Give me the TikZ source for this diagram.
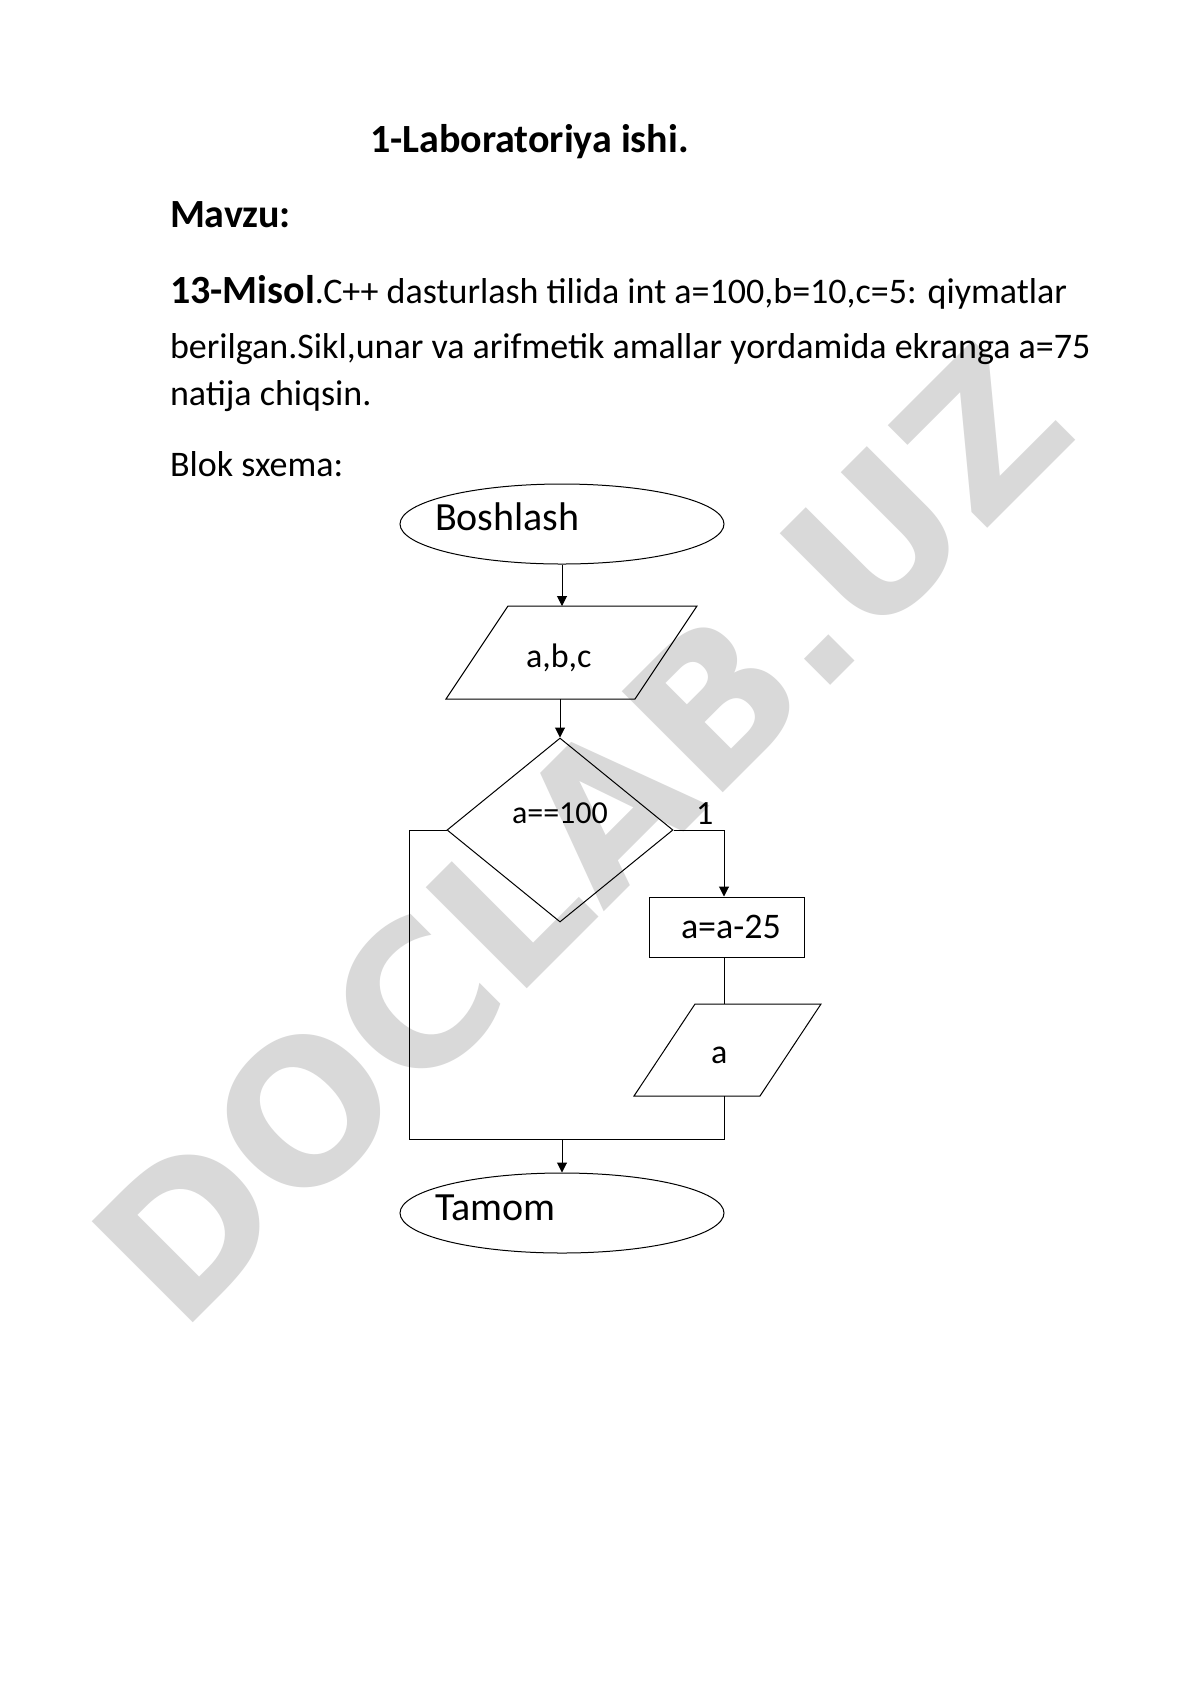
\documentclass[tikz,border=0pt]{standalone}
\usepackage{fontspec}
\setmainfont{Carlito}
\newfontfamily\wmfont{DejaVu Sans}
\usetikzlibrary{shapes.geometric,arrows.meta,calc}
\definecolor{wm}{RGB}{217,217,217}
\begin{document}
\begin{tikzpicture}[x=0.5pt,y=-0.5pt,
  line width=0.5pt,
  txt/.style={anchor=base west, inner sep=0pt, outer sep=0pt},
  body/.style={txt, font=\fontsize{18}{22}\selectfont},
  head/.style={txt, font=\bfseries\fontsize{20}{24}\selectfont},
  term/.style={draw, ellipse, minimum width=162pt, minimum height=40pt, inner sep=0pt},
  iobox/.style={rectangle, inner sep=0pt, outer sep=0pt},
  dec/.style={draw, diamond, minimum width=113pt, minimum height=92pt, inner sep=0pt},
  proc/.style={draw, rectangle, minimum width=77.5pt, minimum height=30pt, inner sep=0pt},
  arr/.style={-{Triangle[length=5pt,width=5pt]}},
]
\useasboundingbox[fill=white] (0,0) rectangle (1190,1683);
% watermark
\node[anchor=base west, inner sep=0pt, rotate=45, text=wm] (wmark) at (180,1336) {\wmfont\bfseries\fontsize{98}{98}\selectfont DOCLAB.UZ};
% header text
\node[head] (title) at (370,152) {1-Laboratoriya ishi.};
\node[head] (mavzu) at (170,227) {Mavzu:};
\node[body] (l1) at (170,303) {{\bfseries\fontsize{20}{24}\selectfont 13-Misol}.C++ dasturlash tilida int a=100,b=10,c=5: qiymatlar};
\node[body] (l2) at (170,358) {berilgan.Sikl,unar va arifmetik amallar yordamida ekranga a=75};
\node[body] (l3) at (170,405) {natija chiqsin.};
\node[body] (blok) at (170,476) {Blok sxema:};
% flowchart shapes
\node[term] (start) at (562,524) {};
\node[txt, font=\fontsize{20}{24}\selectfont] (startt) at (435,530) {Boshlash};
\node[iobox, minimum width=125.5pt, minimum height=46.5pt] (inp) at (571.5,652.5) {};
\draw (inp.south west) -- ($(inp.north west)+(62,0)$) -- (inp.north east) -- ($(inp.south east)-(62,0)$) -- cycle;
\node[txt, font=\fontsize{17}{20}\selectfont] (inpt) at (526,667) {a,b,c};
\node[dec] (cond) at (560,830) {};
\node[txt, font=\fontsize{16}{19}\selectfont] (condt) at (512,823) {a==100};
\node[txt, font=\fontsize{17}{20}\selectfont] (one) at (696,824) {1};
\node[proc] (calc) at (726.5,927) {};
\node[txt, font=\fontsize{18}{21}\selectfont] (calct) at (681,938) {a=a-25};
\node[iobox, minimum width=93.5pt, minimum height=46pt] (out) at (727.5,1050) {};
\draw (out.south west) -- ($(out.north west)+(61,0)$) -- (out.north east) -- ($(out.south east)-(61,0)$) -- cycle;
\node[txt, font=\fontsize{17}{20}\selectfont] (outt) at (711,1063) {a};
\node[term] (stop) at (562,1213) {};
\node[txt, font=\fontsize{20}{24}\selectfont] (stopt) at (435,1220) {Tamom};
% connectors
\coordinate (jl) at (409,1139);
\coordinate (jr) at (724,1139);
\coordinate (rt) at (724,830);
\draw[arr] (start.south) -- (start.south |- inp.north);
\draw[arr] (cond.north |- inp.south) -- (cond.north);
\draw[arr] (cond.east) -- (rt) -- (rt |- calc.north);
\draw (rt |- calc.south) -- (rt |- out.north);
\draw (rt |- out.south) -- (jr) -- (jl) |- (cond.west);
\draw[arr] (stop.north |- jl) -- (stop.north);
\end{tikzpicture}
\end{document}
